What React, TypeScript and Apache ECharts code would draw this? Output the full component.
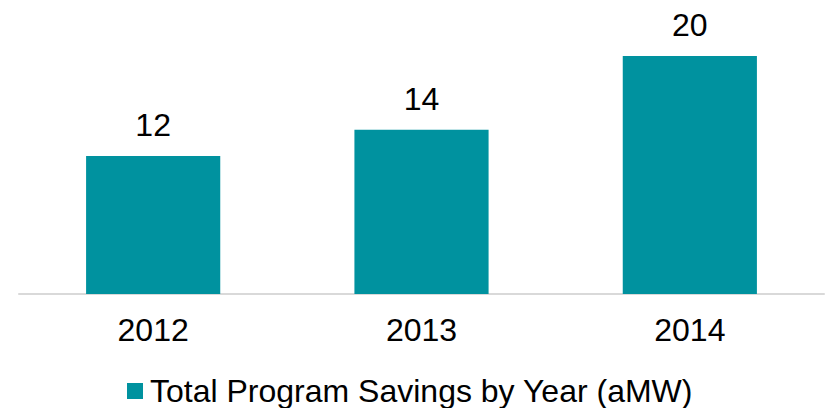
import React, { useEffect, useRef } from "react";
import * as echarts from "echarts";

const categories = ["2012", "2013", "2014"];
const savings = [11.6, 13.8, 20.0];
const seriesName = "Total Program Savings by Year (aMW)";

export default function App() {
  const ref = useRef<HTMLDivElement>(null);
  useEffect(() => {
    if (!ref.current) return;
    const chart = echarts.init(ref.current, null, { renderer: "svg" });
    const font = "'Liberation Sans', Arial, sans-serif";
    chart.setOption({
      animation: false,
      grid: { left: 19, right: 3, top: 56, bottom: 114, containLabel: false },
      legend: {
        bottom: 1,
        left: 127,
        padding: 0,
        itemWidth: 16,
        itemHeight: 16,
        icon: "rect",
        textStyle: { fontFamily: font, fontSize: 32, color: "#000", padding: [0, 0, 0, 2] },
        data: [seriesName],
      },
      xAxis: {
        type: "category",
        data: categories,
        axisLine: { lineStyle: { color: "#D9D9D9", width: 2 } },
        axisTick: { show: false },
        axisLabel: { fontFamily: font, fontSize: 32, color: "#000", margin: 20 },
      },
      yAxis: {
        type: "value",
        min: 0,
        max: 20,
        show: false,
        splitLine: { show: false },
      },
      series: [
        {
          name: seriesName,
          type: "bar",
          data: savings,
          barWidth: "50%",
          itemStyle: { color: "#00929F" },
          label: {
            show: true,
            position: "top",
            distance: 15,
            fontFamily: font,
            fontSize: 32,
            color: "#000",
            formatter: (p: any) => String(Math.round(p.value)),
          },
        },
      ],
    });
    return () => chart.dispose();
  }, []);
  return <div ref={ref} style={{ width: 827, height: 408, position: "absolute", left: 0, top: 0 }} />;
}
